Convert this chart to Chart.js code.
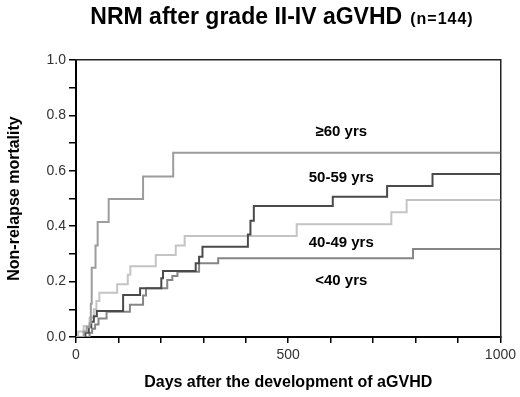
<!DOCTYPE html>
<html><head><meta charset="utf-8">
<script src="https://cdn.jsdelivr.net/npm/chart.js@4.4.1/dist/chart.umd.min.js"></script>
<style>
html,body{margin:0;padding:0;background:#fff}
#wrap{position:relative;width:520px;height:397px}
#ttl{position:absolute;left:0;top:3px;width:520px;padding-left:44px;box-sizing:border-box;text-align:center;font:bold 23px "Liberation Sans Narrow","Liberation Sans",sans-serif;white-space:nowrap;color:#000}
#ttl small{font-size:16px;margin-left:8px;letter-spacing:1px}
canvas{position:absolute;left:0;top:0}
</style></head><body>
<div id="wrap"><canvas id="c" width="520" height="397"></canvas><div id="ttl">NRM after grade II-IV aGVHD<small>(n=144)</small></div></div>
<script>
// step curves (day of event, cumulative NRM after it)
const days60=[0,18,25,32,35,37,46,51,77,158,229,1000];
const nrm60=[0,0.02,0.035,0.05,0.12,0.25,0.33,0.415,0.498,0.579,0.665,0.665];
const days5059=[0,22,30,36,42,49,111,151,201,205,282,290,298,405,411,419,605,733,840,1000];
const nrm5059=[0,0.015,0.035,0.055,0.075,0.094,0.152,0.176,0.212,0.238,0.266,0.29,0.326,0.37,0.42,0.473,0.506,0.545,0.588,0.588];
const days4049=[0,5,18,32,42,48,55,97,122,128,188,235,256,520,743,779,1000];
const nrm4049=[0,0.02,0.04,0.07,0.1,0.13,0.16,0.19,0.225,0.255,0.296,0.33,0.365,0.407,0.45,0.495,0.495];
const days40=[0,32,38,45,53,72,127,158,165,215,227,239,290,335,794,1000];
const nrm40=[0,0.015,0.03,0.045,0.067,0.091,0.116,0.15,0.176,0.206,0.22,0.236,0.266,0.284,0.318,0.318];

const groupNames=['\u226560 yrs','50-59 yrs','40-49 yrs','<40 yrs'];
const xTickValues=[0,500,1000],xTickLabels=['0','500','1000'];
const yTickValues=[0,0.2,0.4,0.6,0.8,1.0],yTickLabels=['0.0','0.2','0.4','0.6','0.8','1.0'];
// where the group names sit, in data units
const nameDay=[625,625,625,625],nameNrm=[0.74,0.574,0.339,0.202];

const COLORS=['#9c9c9c','#4a4a4a','#c4c4c4','#858585'];
const series=[[days60,nrm60],[days5059,nrm5059],[days4049,nrm4049],[days40,nrm40]];

function pick(v,vals,labs){for(let i=0;i<vals.length;i++){if(Math.abs(vals[i]-v)<1e-6)return labs[i]}return''}

const groupLabels={id:'groupLabels',afterDatasetsDraw(ch){
  const c=ch.ctx,xs=ch.scales.x,ys=ch.scales.y;
  c.save();c.font='bold 15px "Liberation Sans Narrow","Liberation Sans",sans-serif';c.fillStyle='#000';c.textAlign='center';c.textBaseline='middle';
  groupNames.forEach((n,i)=>c.fillText(n,xs.getPixelForValue(nameDay[i]),ys.getPixelForValue(nameNrm[i])));
  c.restore();
}};

new Chart(document.getElementById('c'),{type:'line',
  data:{datasets:series.map((s,i)=>({label:groupNames[i],data:s[0].map((d,j)=>({x:d,y:s[1][j]})),stepped:true,borderColor:COLORS[i],borderWidth:2,pointRadius:0,fill:false}))},
  options:{responsive:false,animation:false,devicePixelRatio:1,
    layout:{padding:{top:60,right:17,left:0,bottom:0}},
    plugins:{legend:{display:false},tooltip:{enabled:false}},
    scales:{
      x:{type:'linear',position:'bottom',min:0,max:1000,
        ticks:{stepSize:100,autoSkip:false,maxRotation:0,padding:4,color:'#333',font:{family:'"Liberation Sans",sans-serif',size:14},callback:v=>pick(v,xTickValues,xTickLabels)},
        grid:{drawOnChartArea:false,drawTicks:true,tickLength:6,color:'#000',lineWidth:1.5},
        border:{color:'#000',width:2},
        title:{display:true,text:'Days after the development of aGVHD',color:'#000',font:{family:'"Liberation Sans Narrow","Liberation Sans",sans-serif',size:16,weight:'bold'},padding:{top:4,bottom:5}},
        afterFit:s=>{s.height=60}},
      y:{min:0,max:1,
        ticks:{stepSize:0.1,autoSkip:false,padding:3,color:'#333',font:{family:'"Liberation Sans",sans-serif',size:14},callback:v=>pick(v,yTickValues,yTickLabels)},
        grid:{drawOnChartArea:false,drawTicks:true,tickLength:7,color:'#000',lineWidth:1.5},
        border:{color:'#000',width:2},
        title:{display:true,text:'Non-relapse mortality',color:'#000',font:{family:'"Liberation Sans Narrow","Liberation Sans",sans-serif',size:16,weight:'bold'},padding:{top:5,bottom:4}},
        afterFit:s=>{s.width=76}},
      x2:{type:'linear',position:'top',grid:{display:false},ticks:{display:false},border:{color:'#222',width:1.5},afterFit:s=>{s.height=0}},
      y2:{type:'linear',position:'right',grid:{display:false},ticks:{display:false},border:{color:'#222',width:1.5},afterFit:s=>{s.width=0}}
    }},
  plugins:[groupLabels]});
</script>
</body></html>
